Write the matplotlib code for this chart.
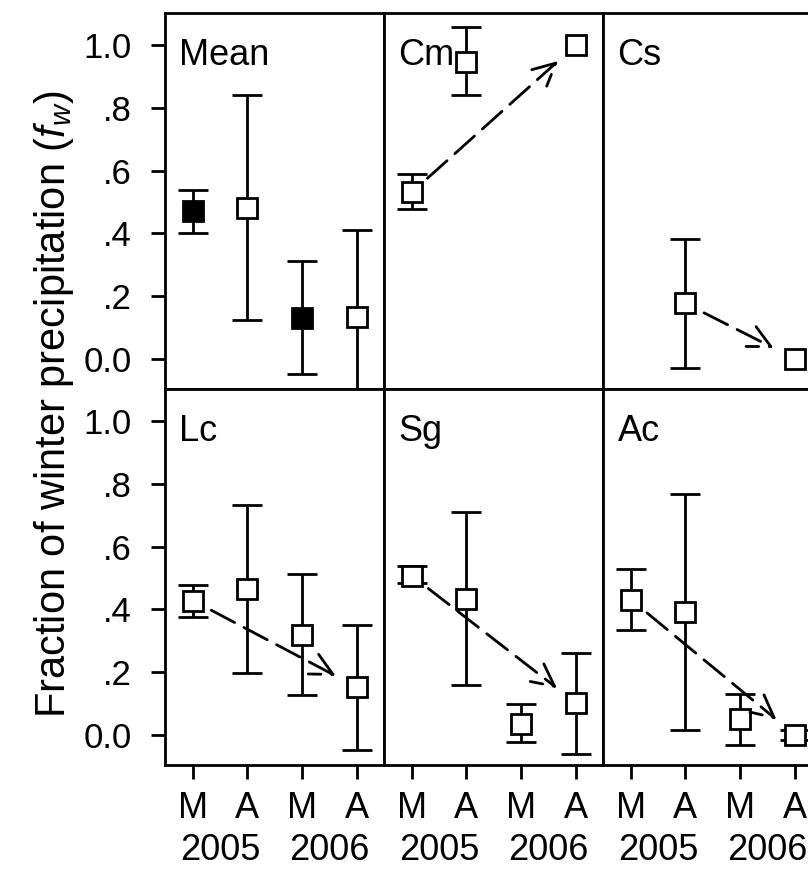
import numpy as np
import matplotlib
matplotlib.use('Agg')
import matplotlib.pyplot as plt

plt.rcParams['font.family'] = ['Liberation Sans', 'DejaVu Sans']
plt.rcParams['mathtext.fontset'] = 'custom'
plt.rcParams['mathtext.rm'] = 'Liberation Sans'
plt.rcParams['mathtext.it'] = 'Liberation Sans:italic'

nan = np.nan

# Datos (M/A 2005, M/A 2006)
x_labels = ['M', 'A', 'M', 'A']
years = ['2005', '2006']
y_ticks = [0.0, 0.2, 0.4, 0.6, 0.8, 1.0]
y_ticklabels = ['0.0', '.2', '.4', '.6', '.8', '1.0']

panel_names = ['Mean', 'Cm', 'Cs', 'Lc', 'Sg', 'Ac']

fw_mean = [0.471, 0.480, 0.131, 0.132]
lo_mean = [0.402, 0.124, -0.049, -0.150]
hi_mean = [0.538, 0.840, 0.311, 0.412]

fw_cm = [0.531, 0.946, nan, 1.000]
lo_cm = [0.476, 0.840, nan, nan]
hi_cm = [0.589, 1.057, nan, nan]

fw_cs = [nan, 0.176, nan, 0.000]
lo_cs = [nan, -0.030, nan, nan]
hi_cs = [nan, 0.383, nan, nan]

fw_lc = [0.428, 0.465, 0.318, 0.152]
lo_lc = [0.375, 0.197, 0.127, -0.048]
hi_lc = [0.476, 0.733, 0.511, 0.350]

fw_sg = [0.507, 0.433, 0.035, 0.102]
lo_sg = [0.484, 0.159, -0.023, -0.061]
hi_sg = [0.537, 0.711, 0.099, 0.261]

fw_ac = [0.431, 0.391, 0.049, 0.000]
lo_ac = [0.335, 0.014, -0.034, -0.016]
hi_ac = [0.529, 0.768, 0.131, 0.016]

# puntos rellenos solo en el panel Mean (M)
filled_mean = [True, False, True, False]

# flechas: (desde, hasta) por panel
arrows = [None, (0, 3), (1, 3), (0, 3), (0, 3), (0, 3)]

fw_all = [fw_mean, fw_cm, fw_cs, fw_lc, fw_sg, fw_ac]
lo_all = [lo_mean, lo_cm, lo_cs, lo_lc, lo_sg, lo_ac]
hi_all = [hi_mean, hi_cm, hi_cs, hi_lc, hi_sg, hi_ac]

W, H = 808, 869
fig = plt.figure(figsize=(W / 100, H / 100), dpi=100)

col_left = [165, 384, 603]
col_w = 219
row_top = [13, 389]
row_h = 376

x = np.arange(1, 5)
lw = 2.0

for i, name in enumerate(panel_names):
    r, c = divmod(i, 3)
    ax = fig.add_axes([col_left[c] / W, 1 - (row_top[r] + row_h) / H,
                       col_w / W, row_h / H])
    fw = np.array(fw_all[i])
    lo = np.array(lo_all[i])
    hi = np.array(hi_all[i])

    ok = ~np.isnan(lo)
    ax.errorbar(x[ok], fw[ok], yerr=[fw[ok] - lo[ok], hi[ok] - fw[ok]],
                fmt='none', ecolor='k', elinewidth=lw, capsize=10.5,
                capthick=lw, zorder=2)

    if arrows[i] is not None:
        a, b = arrows[i]
        ax.annotate('', xy=(x[b], fw[b]), xytext=(x[a], fw[a]),
                    arrowprops=dict(arrowstyle='->,head_length=0.8,head_width=0.4',
                                    mutation_scale=20, lw=lw, color='k',
                                    linestyle=(0, (9.5, 3.8)),
                                    shrinkA=15, shrinkB=17),
                    zorder=4)

    for j in range(4):
        if np.isnan(fw[j]):
            continue
        face = 'k' if (i == 0 and filled_mean[j]) else 'white'
        ax.plot(x[j], fw[j], 's', ms=14, mfc=face, mec='k', mew=lw,
                zorder=3)

    ax.set_xlim(0.49, 4.5)
    ax.set_ylim(-0.097, 1.103)
    for sp in ax.spines.values():
        sp.set_linewidth(lw)

    ax.text(0.066, 0.862, name, transform=ax.transAxes, fontsize=26,
            ha='left', va='baseline')

    ax.tick_params(direction='out', length=10, width=lw)
    if c == 0:
        ax.set_yticks(y_ticks)
        ax.set_yticklabels(y_ticklabels, fontsize=25)
        ax.tick_params(axis='y', pad=14)
    else:
        ax.set_yticks([])
    if r == 1:
        ax.set_xticks(x)
        ax.set_xticklabels(x_labels, fontsize=26)
        ax.tick_params(axis='x', pad=9)
        for k, yr in enumerate(years):
            ax.text(1.5 + 2 * k, -0.253, yr, transform=ax.get_xaxis_transform(),
                    fontsize=26, ha='center', va='baseline')
    else:
        ax.set_xticks([])

fig.text(54 / W, 1 - 404 / H, 'Fraction of winter precipitation ($\\it{f}_{\\it{w}}$)',
         rotation=90, fontsize=30, ha='center', va='center')

plt.savefig('out.png', dpi=100)
